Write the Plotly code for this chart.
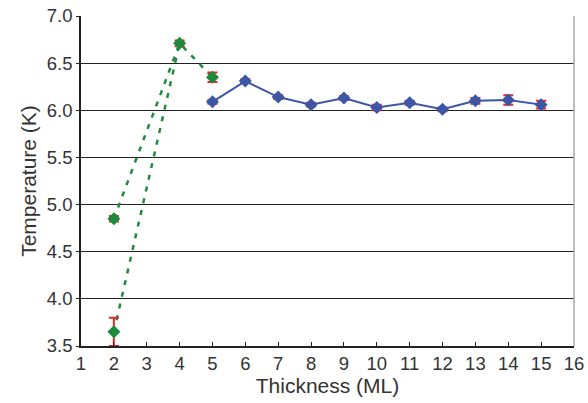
import plotly.graph_objects as go

# Blue series
blue_x = [5, 6, 7, 8, 9, 10, 11, 12, 13, 14, 15]
blue_y = [6.09, 6.31, 6.14, 6.06, 6.13, 6.03, 6.08, 6.01, 6.10, 6.11, 6.06]
blue_err = [0.02, 0.02, 0.02, 0.02, 0.02, 0.03, 0.02, 0.02, 0.03, 0.05, 0.04]

# Green points
green_x = [2, 2, 4, 5]
green_y = [4.85, 3.65, 6.71, 6.35]
green_err = [0.03, 0.15, 0.03, 0.05]

# Green dotted guide lines
lineA_x = [2, 4, 5]
lineA_y = [4.85, 6.71, 6.35]
lineB_x = [2, 4]
lineB_y = [3.65, 6.71]

GREEN = "#1f8a3c"
BLUE = "#3b57a6"
RED = "#e8262a"

fig = go.Figure()
fig.add_trace(go.Scatter(x=lineA_x, y=lineA_y, mode="lines",
                         line=dict(color=GREEN, width=2.5, dash="5px,7px"), showlegend=False))
fig.add_trace(go.Scatter(x=lineB_x, y=lineB_y, mode="lines",
                         line=dict(color=GREEN, width=2.5, dash="5px,7px"), showlegend=False))
fig.add_trace(go.Scatter(x=blue_x, y=blue_y, mode="lines+markers",
                         line=dict(color=BLUE, width=2),
                         marker=dict(symbol="diamond", size=10, color=BLUE),
                         error_y=dict(type="data", array=blue_err, color=RED, thickness=2, width=5),
                         showlegend=False))
fig.add_trace(go.Scatter(x=green_x, y=green_y, mode="markers",
                         marker=dict(symbol="diamond", size=10, color=GREEN),
                         error_y=dict(type="data", array=green_err, color=RED, thickness=2, width=5),
                         cliponaxis=False, showlegend=False))

fig.update_layout(
    width=588, height=403,
    margin=dict(l=81, r=14, t=16, b=57),
    paper_bgcolor="white", plot_bgcolor="white",
    font=dict(family="Arial", color="#333", size=18),
)
fig.update_xaxes(range=[1, 16], tick0=1, dtick=1, showgrid=False, automargin=False,
                 ticks="inside", ticklen=4, tickcolor="#222",
                 tickfont=dict(family="Arial", size=18.5, color="#333"),
                 showline=True, linecolor="#222", linewidth=1.5, mirror=False,
                 title=dict(text="Thickness (ML)", font=dict(family="Arial", size=21, color="#333"), standoff=2),
                 zeroline=False)
fig.update_yaxes(range=[3.5, 7.0], dtick=0.5, tickformat=".1f", automargin=False,
                 showgrid=True, gridcolor="#222", gridwidth=1,
                 ticks="outside", ticklen=3, tickcolor="#222",
                 tickfont=dict(family="Arial", size=18.5, color="#333"),
                 showline=True, linecolor="#222", linewidth=1.5,
                 title=dict(text="Temperature (K)", font=dict(family="Arial", size=21, color="#333"), standoff=4),
                 zeroline=False)
fig.add_shape(type="line", xref="paper", yref="paper", x0=1, x1=1, y0=0, y1=1,
              line=dict(color="#aaa", width=1.5))
fig.write_html("out.html")
